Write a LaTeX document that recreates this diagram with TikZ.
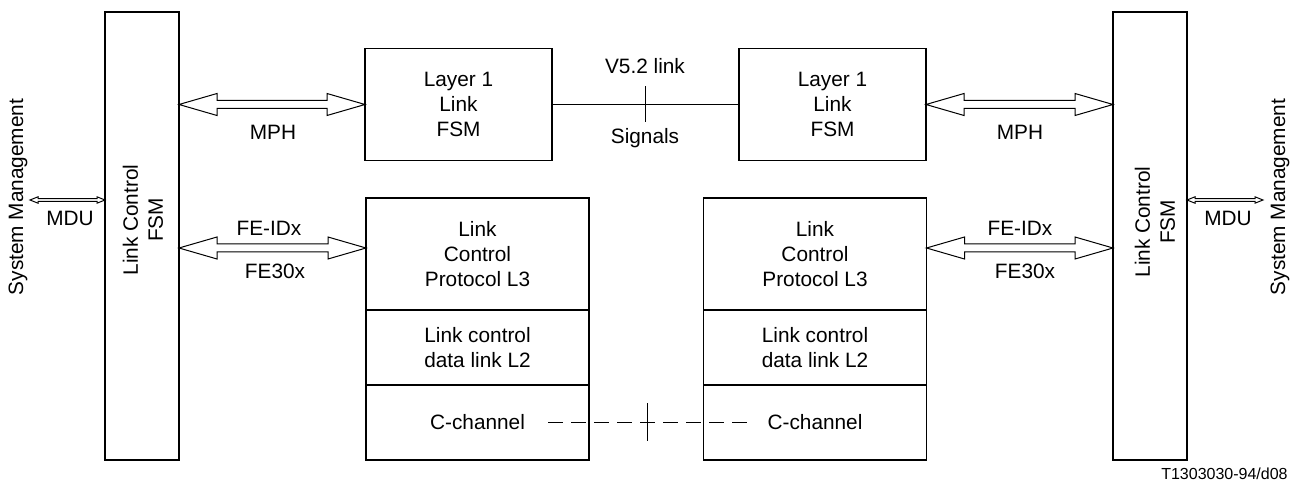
\documentclass[tikz,border=0pt]{standalone}
\usepackage{fontspec}
\setmainfont{Liberation Sans}
\usetikzlibrary{calc,positioning}
\pgfdeclarelayer{bg}
\pgfsetlayers{bg,main}
\tikzset{
    every node/.style={inner sep=0mm, align=center, font=\fontsize{10.4}{12.5}\selectfont}
}
\tikzset{box/.style={draw, rectangle, line width=0.6pt, outer sep=0pt}}
\tikzset{cell/.style={box, minimum width=111.5pt, minimum height=37.5pt}}
% hollow double-headed arrow: ends, head length, head half width, shaft half width
\newcommand{\fatarrow}[5]{%
        \draw[line width=0.5pt, fill=white] let \p1=(#1), \p2=(#2) in
                (\p1) -- (\x1+#3,\y1+#4) -- (\x1+#3,\y1+#5) -- (\x2-#3,\y2+#5) -- (\x2-#3,\y2+#4)
                -- (\p2) -- (\x2-#3,\y2-#4) -- (\x2-#3,\y2-#5) -- (\x1+#3,\y1-#5) -- (\x1+#3,\y1-#4) -- cycle;
}

\begin{document}
\begin{tikzpicture}[x=0.5pt, y=-0.5pt]
        \useasboundingbox (0,0) rectangle (1300,486);
        \node (lc1) [box, minimum width=37pt, minimum height=224pt] at (142,236) {};
        \node (lc2) [box, minimum width=37pt, minimum height=224pt] at (1150,236) {};
        \node [rotate=90] at (143,220) {Link Control\\FSM};
        \node [rotate=90] at (1155,222) {Link Control\\FSM};
        \node [rotate=90] at (18,197) {System Management};
        \node [rotate=90] at (1280,197) {System Management};
        \node (l1a) [box, minimum width=93.5pt, minimum height=56pt] at (458.5,104.5) {Layer 1\\Link\\FSM};
        \node (l1b) [box, minimum width=93.5pt, minimum height=56pt] at (832.5,104.5) {Layer 1\\Link\\FSM};
        \node (l3a) [cell, minimum height=56pt] at (477.5,254) {Link\\Control\\Protocol L3};
        \node (l2a) [cell, below=0pt of l3a] {Link control\\data link L2};
        \node (cha) [cell, below=0pt of l2a] {C-channel};
        \node (l3b) [cell, minimum height=56pt] at (815,254) {Link\\Control\\Protocol L3};
        \node (l2b) [cell, below=0pt of l3b] {Link control\\data link L2};
        \node (chb) [cell, below=0pt of l2b] {C-channel};
        \coordinate (sm1) at (30,200);
        \coordinate (sm2) at (1263,200);
        \coordinate (fe1) at ($(l3a.west)+(0,-6)$);
        \coordinate (fe2) at ($(l3b.east)+(0,-6)$);
        \coordinate (d1) at (548,422);
        \coordinate (d2) at (747,422);
        \node at (645,66) {V5.2 link};
        \node at (645,138) {Signals};
        \node at (273,132) {MPH};
        \node at (1020,132) {MPH};
        \node at (269,228) {FE-IDx};
        \node at (1020,228) {FE-IDx};
        \node at (275,271) {FE30x};
        \node at (1025,271) {FE30x};
        \node at (70,218) {MDU};
        \node at (1228,218) {MDU};
        \node [anchor=east, font=\fontsize{8}{9.6}\selectfont] at (1288,474) {T1303030-94/d08};
        \begin{pgfonlayer}{bg}
                \draw [line width=0.5pt] (l1a.east) -- coordinate (t1) (l1b.west);
                \draw [line width=0.5pt] ($(t1)+(0,-18)$) -- ($(t1)+(0,18)$);
                \draw [line width=0.5pt, dash pattern=on 7.5pt off 4pt] (d1) -- coordinate (t2) (d2);
                \draw [line width=0.5pt] ($(t2)+(0,-19)$) -- ($(t2)+(0,19)$);
                \fatarrow{lc1.east |- l1a.west}{l1a.west}{19pt}{5.5pt}{2pt}
                \fatarrow{l1b.east}{lc2.west |- l1b.east}{19pt}{5.5pt}{2pt}
                \fatarrow{lc1.east |- fe1}{fe1}{19pt}{5.5pt}{2pt}
                \fatarrow{fe2}{lc2.west |- fe2}{19pt}{5.5pt}{2pt}
                \fatarrow{sm1}{lc1.west |- sm1}{4pt}{1.6pt}{0.7pt}
                \fatarrow{lc2.east |- sm2}{sm2}{4pt}{1.6pt}{0.7pt}
        \end{pgfonlayer}
\end{tikzpicture}
\end{document}
